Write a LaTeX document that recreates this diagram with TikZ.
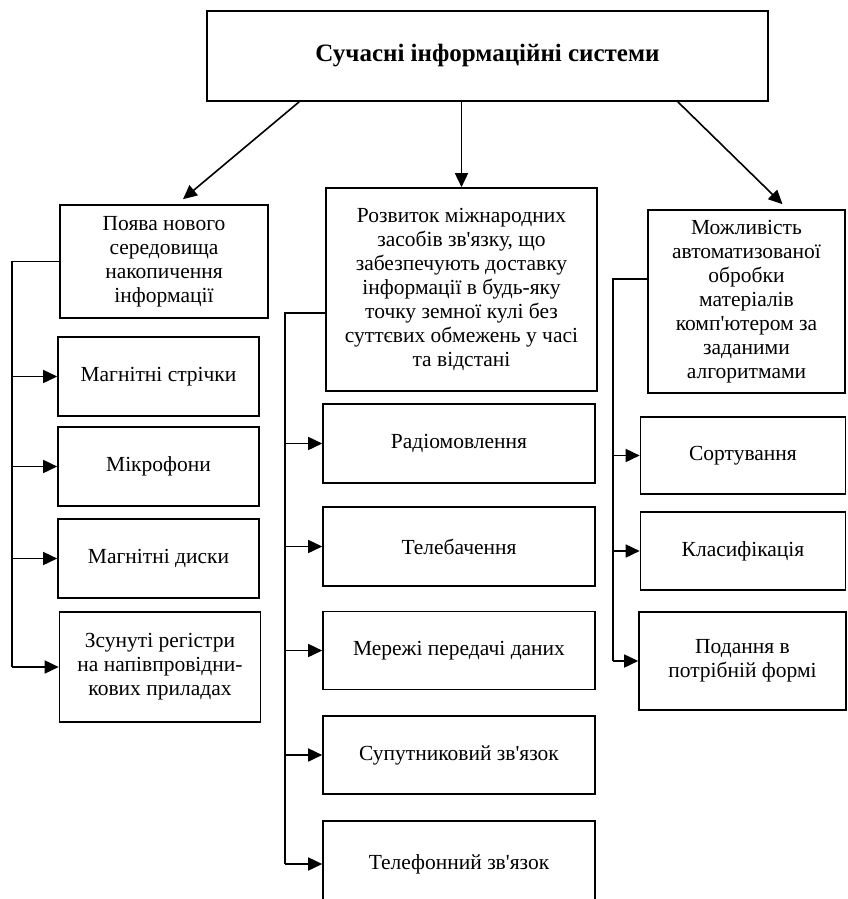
\documentclass[tikz,border=0pt]{standalone}
\usepackage{fontspec}
\setmainfont{Liberation Serif}
\usetikzlibrary{arrows.meta}
\tikzset{
  box/.style={draw, line width=1.6pt, align=center, inner sep=2pt, font=\fontsize{21.5}{24}\selectfont},
  arr/.style={-{Triangle[length=14pt,width=13pt]}, line width=1.6pt},
  bus/.style={line width=1.6pt}
}
\newcommand{\apos}{\textquotesingle}

\begin{document}
\begin{tikzpicture}[x=1pt,y=-1pt]
\useasboundingbox (0,0) rectangle (847,899);
\clip (0,0) rectangle (847,899);

\node[box, minimum width=561pt, minimum height=90pt, font=\fontsize{25}{30}\selectfont\bfseries] (top) at (487.5,56) {Сучасні інформаційні системи};

% left column
\node[box, minimum width=208pt, minimum height=113pt] (L0) at (164,261.5) {Поява нового\\середовища\\накопичення\\інформації};
\node[box, minimum width=201pt, minimum height=79pt] (L1) at (158.5,376.5) {Магнітні стрічки};
\node[box, minimum width=201pt, minimum height=79pt] (L2) at (158.5,466.5) {Мікрофони};
\node[box, minimum width=201pt, minimum height=79pt] (L3) at (158.5,558.5) {Магнітні диски};
\node[box, minimum width=201pt, minimum height=110pt] (L4) at (160,667) {Зсунуті регістри\\на напівпровідни-\\кових приладах};

% middle column
\node[box, minimum width=271pt, minimum height=203pt] (M0) at (461.5,289.5) {Розвиток міжнародних\\засобів зв\apos язку, що\\забезпечують доставку\\інформації в будь-яку\\точку земної кулі без\\суттєвих обмежень у часі\\та відстані};
\node[box, minimum width=272pt, minimum height=79pt] (M1) at (459,443.5) {Радіомовлення};
\node[box, minimum width=272pt, minimum height=79pt] (M2) at (459,546.5) {Телебачення};
\node[box, minimum width=272pt, minimum height=78pt] (M3) at (459,650.5) {Мережі передачі даних};
\node[box, minimum width=272pt, minimum height=78pt] (M4) at (459,755) {Супутниковий зв\apos язок};
\node[box, minimum width=272pt, minimum height=86pt] (M5) at (459,864) {Телефонний зв\apos язок};

% right column
\node[box, minimum width=197pt, minimum height=183pt] (R0) at (746.5,301.5) {Можливість\\автоматизованої\\обробки\\матеріалів\\комп\apos ютером за\\заданими\\алгоритмами};
\node[box, minimum width=205pt, minimum height=77pt] (R1) at (743,455.5) {Сортування};
\node[box, minimum width=205pt, minimum height=78pt] (R2) at (743,551) {Класифікація};
\node[box, minimum width=207pt, minimum height=98pt] (R3) at (742.5,661) {Подання в\\потрібній формі};

\draw[arr] ([xshift=93pt]top.south west) -- ([xshift=19pt,yshift=5pt]L0.north);
\draw[arr] (M0.north |- top.south) -- (M0.north);
\draw[arr] ([xshift=-91pt]top.south east) -- ([xshift=36pt,yshift=5pt]R0.north);

\coordinate (lbus) at (12,261.5);
\coordinate (mbus) at (285,313);
\coordinate (rbus) at (613,279);

\draw[bus] (L0.west) -- (lbus) -- (lbus |- L4.west);
\draw[bus] (mbus -| M0.west) -- (mbus) -- (mbus |- M5.west);
\draw[bus] (rbus -| R0.west) -- (rbus) -- (rbus |- R3.west);

\foreach \n in {L1,L2,L3,L4}
  \draw[arr] (lbus |- \n.west) -- (\n.west);
\foreach \n in {M1,M2,M3,M4,M5}
  \draw[arr] (mbus |- \n.west) -- (\n.west);
\foreach \n in {R1,R2,R3}
  \draw[arr] (rbus |- \n.west) -- (\n.west);
\end{tikzpicture}
\end{document}
